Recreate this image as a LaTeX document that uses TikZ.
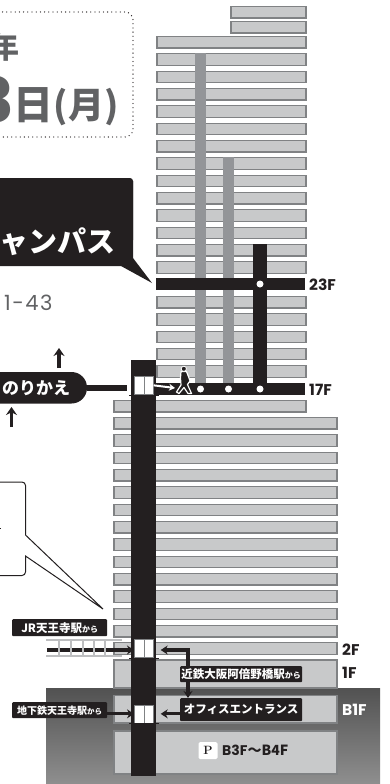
\documentclass[tikz,border=0pt]{standalone}
\usepackage{fontspec}
\usetikzlibrary{arrows.meta,calc}
\newfontfamily\jp{Noto Sans CJK JP}
\newfontfamily\lat{Poppins}
\definecolor{ink}{HTML}{231F20}
\definecolor{floorfill}{HTML}{C8C9CA}
\definecolor{floorline}{HTML}{808284}
\definecolor{shaft}{HTML}{939598}
\definecolor{greytext}{HTML}{616264}
\definecolor{railgrey}{HTML}{BDBEC0}
\tikzset{
  floorbox/.style={fill=floorfill,draw=floorline,line width=1.1pt},
  label/.style={fill=ink,text=white,font=\jp\bfseries,inner sep=0pt,rounded corners=1pt,anchor=north west},
  lift/.style={fill=white,draw=floorline,line width=0.7pt,minimum width=19pt,minimum height=18pt,inner sep=0pt,anchor=north west},
  flr/.style={font=\lat\bfseries\fontsize{15.5}{16}\selectfont,text=ink,anchor=west,inner sep=0pt},
  walk/.style={-{Stealth[length=7pt,width=9pt]},draw=ink,line width=3.1pt},
  upar/.style={-{Stealth[length=8pt,width=11pt]},draw=ink,line width=3.4pt},
  pin/.style={circle,fill=white,minimum size=7pt,inner sep=0pt},
}
\newcommand{\fl}[4]{\path[floorbox] (#1,#3) rectangle (#2,#4);}
\begin{document}
\begin{tikzpicture}[x=1pt,y=-1pt]
\useasboundingbox (0,0) rectangle (390,784);
\clip (0,0) rectangle (390,784);
% basement shade
\path[top color=black!68,bottom color=black!44] (46,688) rectangle (380,784);
% top floors
\fl{231}{306}{6.5}{18}
\fl{231}{306}{21.5}{33}
\foreach \i in {0,...,13,15,16,17,18,19}{
  \pgfmathsetmacro{\yy}{36.5+17.33*\i}
  \fl{157}{306}{\yy}{\yy+11.5}
}
\fl{114}{306}{400.5}{412}
\foreach \i in {0,...,13}{
  \pgfmathsetmacro{\yy}{417.5+17.33*\i}
  \fl{114}{337}{\yy}{\yy+11.5}
}
\fl{114}{337}{660}{688}
\fl{114}{337}{695.5}{723}
\fl{114}{337}{731}{774}
% shafts
\fill[shaft] (195,53) rectangle (206,384);
\fill[shaft] (223,157) rectangle (234,384);
\fill[ink] (253,244) rectangle (267,384);
\fill[ink] (156,278) rectangle (305,290);
\fill[ink] (156,383) rectangle (305,395);
\fill[ink] (131,360) rectangle (156,776);
\node[pin] (p1) at (200.5,389) {};
\node[pin] (p2) at (228.5,389) {};
\node[pin] (p3) at (260,389) {};
\node[pin] (p4) at (260,284) {};
% lifts
\foreach \n/\yy in {a/376,b/639,c/704.5}{
  \node[lift] (lift\n) at (134,\yy) {};
  \draw[floorline,line width=0.7pt] (lift\n.north) -- (lift\n.south);
  \draw[ink,line width=0.5pt] ($(lift\n.south west)+(-5,0.5)$) -- ($(lift\n.south east)+(5,0.5)$);
}
% floor labels
\node[flr] (f23) at (309,284.5) {23F};
\node[flr] (f17) at (309,389.5) {17F};
\node[flr] (f2) at (342,649.5) {2F};
\node[flr] (f1) at (342,673) {1F};
\node[flr,text=white] (fb1) at (342,710) {B1F};
% top-left box
\draw[ink,line width=1.3pt,line cap=round,dash pattern=on 0pt off 4.2pt,rounded corners=8pt] (-10,12) -- (133,12) -- (133,137) -- (-10,137);
\node[anchor=east,inner sep=0pt,text=greytext,font=\jp\bfseries\fontsize{30}{30}\selectfont] (yr) at (20,47.5) {年};
\node[anchor=base east,inner sep=0pt,text=greytext,font=\lat\bfseries\fontsize{62}{62}\selectfont] (dy) at (14,122) {3};
\node[anchor=base west,inner sep=0pt,text=greytext,font=\jp\bfseries\fontsize{40}{40}\selectfont] (ni) at (13.5,119) {日};
\node[anchor=base west,inner sep=0pt,text=greytext,font=\jp\bfseries\fontsize{36}{36}\selectfont] (wd) at (53.5,118) {(月)};
% campus callout
\fill[ink,rounded corners=3pt] (-10,178) -- (133,178) -- (133,240);
\fill[ink] (-10,181) -- (133,181) -- (133,258) -- (152,283) -- (121,266) -- (-10,266) -- cycle;
\node[anchor=west,inner sep=0pt,text=white,font=\jp\bfseries\fontsize{29}{29}\selectfont] (cp) at (-1,242) {ャンパス};
\node[anchor=west,inner sep=0pt,text=greytext,font=\lat\fontsize{21}{21}\selectfont] (adr) at (4,302.5) {1\kern1.5pt-\kern1.5pt4\kern1.5pt3};
% transfer pill
\fill[ink,rounded corners=15.5pt] (-30,372) rectangle (87,403.5);
\node[anchor=west,inner sep=0pt,text=white,font=\jp\bfseries\fontsize{17}{17}\selectfont] (nk) at (2,388) {のりかえ};
\coordinate (pillend) at (87,388);
\coordinate (linkend) at (127,388);
\draw[ink,line width=6pt] (pillend) -- (linkend);
\coordinate (u1a) at (59,368); \coordinate (u1b) at (59,348);
\coordinate (u2a) at (11.5,427); \coordinate (u2b) at (11.5,407);
\draw[upar] (u1a) -- (u1b);
\draw[upar] (u2a) -- (u2b);
% person
\draw[-{Stealth[length=6pt,width=7pt]},draw=white,line width=2pt] (lifta.east) -- (175,388);
\path[fill=ink,draw=white,line width=1.2pt,line join=round] (181,371.5) -- (186.5,371.5) -- (189,378) -- (190,381) -- (187.5,384.5) -- (191.5,393.5) -- (188,393.5) -- (184,387.5) -- (179,393.5) -- (176.5,392) -- (181,385) -- (180.5,378) -- cycle;
\path[fill=ink,draw=white,line width=0.8pt] (183.8,368.8) circle (2.6);
% white callout
\draw[ink,fill=white,line width=1pt] (-10,482) -- (22,482) to[out=0,in=90] (25.5,485.5) -- (25.5,535) -- (103,609) -- (25.5,556) -- (25.5,572) to[out=-90,in=0] (22,575.5) -- (-10,575.5);
\fill[ink] (0,527.5) rectangle (1.2,528.5);
% rail
\draw[railgrey,line width=2pt] (46,640) -- (122,640);
\draw[railgrey,line width=2pt] (46,655.5) -- (122,655.5);
\coordinate (railstart) at (47,650);
\draw[walk] (railstart) -- (liftb.west |- railstart);
\foreach \xx in {59,71,83,94,105}{
  \draw[railgrey,line width=1.8pt] (\xx,640) -- (\xx,655);
}
% station labels
\node[label,minimum width=95pt,minimum height=17pt] (jr) at (12,619) {\fontsize{11.5}{11}\selectfont JR天王寺駅\fontsize{8}{8}\selectfont から};
\node[label,minimum width=95pt,minimum height=16pt] (sub) at (12,702) {\fontsize{10}{10}\selectfont 地下鉄天王寺駅\fontsize{7.5}{8}\selectfont から};
\node[label,minimum width=122pt,minimum height=16pt] (kin) at (180,666) {\fontsize{11.5}{11}\selectfont 近鉄大阪阿倍野橋駅\fontsize{8}{8}\selectfont から};
\node[label,minimum width=122pt,minimum height=23pt] (off) at (180,698) {\fontsize{11.5}{12}\selectfont オフィスエントランス};
% arrows to lifts
\draw[walk] (sub.east |- liftc.west) -- (liftc.west);
\draw[walk] (off.west |- liftc.east) -- ($(liftc.east)+(7,0)$);
\coordinate (kelbow) at (188,650);
\draw[walk] (kelbow) -- ($(liftb.east |- kelbow)+(7,0)$);
\draw[ink,line width=3.1pt,line cap=rect] (kelbow) -- (kin.north -| kelbow);
\draw[walk] (kin.south -| kelbow) -- (off.north -| kelbow);
% parking
\node[fill=white,inner sep=0pt,minimum width=19pt,minimum height=17pt,rounded corners=1.5pt,font=\rmfamily\bfseries\fontsize{12}{12}\selectfont,text=ink] (pk) at (208,750.5) {P};
\node[anchor=west,inner sep=0pt,font=\lat\bfseries\fontsize{14}{15}\selectfont,text=ink] (pb) at (222,750.5) {B3F\jp{～}B4F};
\end{tikzpicture}
\end{document}
